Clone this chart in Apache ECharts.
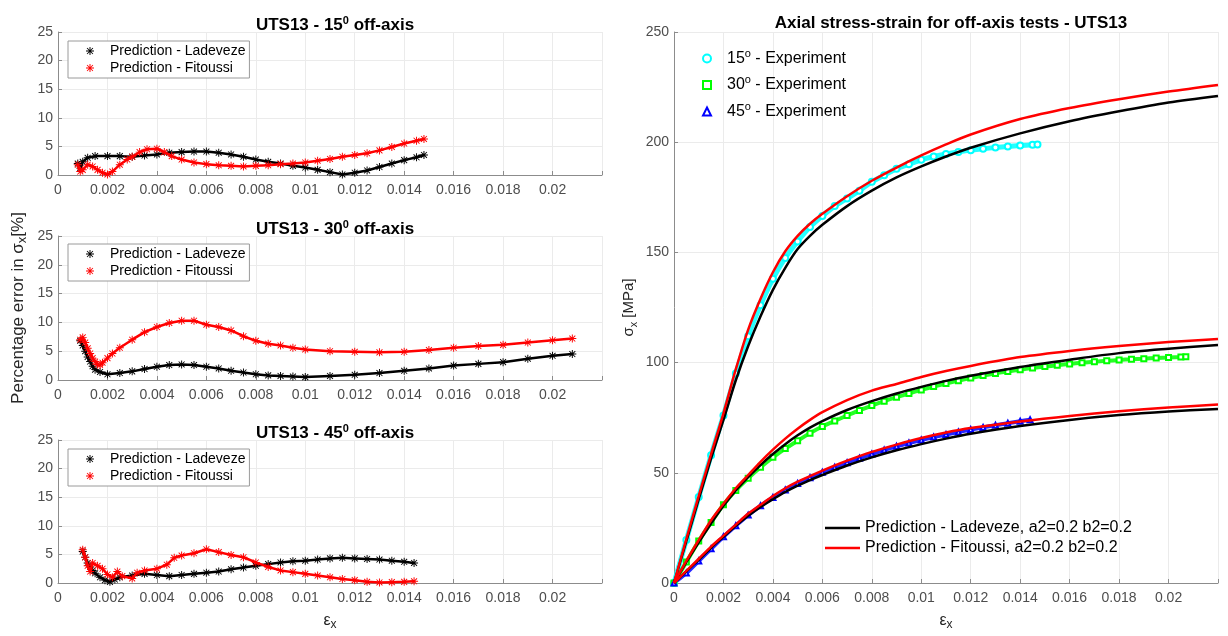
<!DOCTYPE html>
<html><head><meta charset="utf-8">
<script src="https://cdn.jsdelivr.net/npm/echarts@6.0.0/dist/echarts.min.js"></script>
<style>html,body{margin:0;padding:0;background:#fff}#c{width:1228px;height:636px}</style>
</head><body><div id="c"></div><script>
// ---------- Tick labels ----------
const errTicks = [0, 5, 10, 15, 20, 25];
const stressTicks = [0, 50, 100, 150, 200, 250];

// ---------- Left panels: percentage error ----------
// 15 deg
const e15L = [0.0008,0.0009,0.001,0.0012,0.0015,0.002,0.0025,0.003,0.0035,0.004,0.0045,0.005,0.0055,0.006,0.0065,0.007,0.0075,0.008,0.0085,0.009,0.0095,0.01,0.0105,0.011,0.0115,0.012,0.0125,0.013,0.0135,0.014,0.0145,0.0148];
const err15L = [2.0,1.2,2.3,3.0,3.3,3.3,3.3,3.2,3.4,3.6,3.9,4.0,4.1,4.1,3.9,3.6,3.2,2.7,2.3,2.0,1.6,1.3,0.9,0.5,0.1,0.4,0.8,1.4,2.0,2.6,3.1,3.5];
const e15F = [0.0008,0.0009,0.001,0.0012,0.0014,0.0016,0.0018,0.002,0.0022,0.0025,0.0028,0.003,0.0033,0.0036,0.004,0.0043,0.0046,0.005,0.0055,0.006,0.0065,0.007,0.0075,0.008,0.0085,0.009,0.0095,0.01,0.0105,0.011,0.0115,0.012,0.0125,0.013,0.0135,0.014,0.0145,0.0148];
const err15F = [1.8,0.6,0.9,1.8,1.5,0.9,0.4,0.1,0.6,1.8,2.7,3.2,4.0,4.5,4.6,4.0,3.3,2.7,2.2,1.9,1.7,1.6,1.5,1.6,1.7,1.9,2.0,2.2,2.5,2.8,3.2,3.5,3.8,4.3,4.9,5.5,6.0,6.3];
// 30 deg
const e30L = [0.0009,0.001,0.0011,0.0012,0.0013,0.0014,0.0015,0.0017,0.002,0.0025,0.003,0.0035,0.004,0.0045,0.005,0.0055,0.006,0.0065,0.007,0.0075,0.008,0.0085,0.009,0.0095,0.01,0.011,0.012,0.013,0.014,0.015,0.016,0.017,0.018,0.019,0.02,0.0208];
const err30L = [6.8,6.0,5.0,4.0,3.2,2.4,1.8,1.4,1.0,1.2,1.5,1.9,2.3,2.6,2.7,2.6,2.3,2.0,1.6,1.3,1.0,0.8,0.7,0.6,0.5,0.7,0.9,1.2,1.6,2.0,2.5,2.8,3.1,3.7,4.2,4.5];
const e30F = [0.0009,0.001,0.0011,0.0012,0.0013,0.0014,0.0015,0.0016,0.0017,0.0018,0.002,0.0022,0.0025,0.003,0.0035,0.004,0.0045,0.005,0.0055,0.006,0.0065,0.007,0.0075,0.008,0.0085,0.009,0.0095,0.01,0.011,0.012,0.013,0.014,0.015,0.016,0.017,0.018,0.019,0.02,0.0208];
const err30F = [7.0,7.4,6.5,5.5,4.6,3.8,3.2,2.7,2.6,3.0,3.8,4.6,5.6,7.0,8.3,9.2,9.9,10.3,10.3,9.6,9.2,8.6,7.6,6.8,6.3,6.0,5.6,5.3,5.0,4.9,4.8,4.9,5.2,5.6,5.9,6.1,6.5,6.9,7.2];
// 45 deg
const e45L = [0.001,0.0011,0.0012,0.0013,0.0014,0.0015,0.0017,0.0019,0.0021,0.0023,0.0025,0.003,0.0035,0.004,0.0045,0.005,0.0055,0.006,0.0065,0.007,0.0075,0.008,0.0085,0.009,0.0095,0.01,0.0105,0.011,0.0115,0.012,0.0125,0.013,0.0135,0.014,0.0144];
const err45L = [5.5,4.5,3.5,2.8,2.2,1.7,1.0,0.5,0.2,0.6,1.0,1.3,1.6,1.4,1.2,1.4,1.6,1.8,2.0,2.4,2.7,3.0,3.3,3.6,3.8,3.9,4.1,4.3,4.4,4.3,4.2,4.1,3.9,3.7,3.5];
const e45F = [0.001,0.0011,0.0012,0.0013,0.0014,0.0016,0.0018,0.002,0.0022,0.0024,0.0026,0.003,0.0032,0.0035,0.004,0.0044,0.0047,0.005,0.0055,0.006,0.0065,0.007,0.0075,0.008,0.0085,0.009,0.0095,0.01,0.0105,0.011,0.0115,0.012,0.0125,0.013,0.0135,0.014,0.0144];
const err45F = [5.8,4.5,3.0,2.0,3.5,3.0,2.5,1.5,1.0,2.0,1.2,0.8,1.8,2.2,2.5,3.2,4.4,4.8,5.2,5.9,5.4,4.9,4.5,3.6,2.8,2.2,1.9,1.6,1.3,1.0,0.7,0.5,0.2,0.1,0.15,0.2,0.3];

// ---------- Right panel: stress-strain ----------
const ePred = [0,0.0005,0.001,0.0015,0.002,0.0025,0.003,0.0035,0.004,0.0045,0.005,0.0055,0.006,0.007,0.008,0.009,0.01,0.011,0.012,0.014,0.016,0.018,0.02,0.022];
const s15Lad = [0,19,38,56.5,74,92,107.5,121,133,143,151.5,157.5,162.5,171,178,184,189,193.5,197.5,204,209.5,214,218,221];
const s15Fit = [0,20,39.5,58.5,77,97,115,129,141,150.5,157.5,163,167.5,175.5,182.5,188.5,194,199,203.5,210.5,215.5,219.5,223,226];
const s30Lad = [0,9.5,18.5,27,35,42,48,53.5,58.5,63,67,70.5,73.5,78.5,82.5,86,89,91.7,94,98,101.3,104.3,106.3,108];
const s30Fit = [0,10,19.5,28.5,36,43,49,55,60.5,65.5,70,74,77.5,83,87.3,90.3,93.5,96.2,98.5,102.5,105.3,107.5,109.3,110.7];
const s45Lad = [0,5.3,10.5,16,21,26,30.5,34.5,38,41.3,44.2,46.7,49,53.3,57,60.2,63,65.5,67.7,71.2,74,76.2,77.8,79];
const s45Fit = [0,5.5,11,16.5,21.5,26.5,31.5,35.5,39.5,43,46,48.5,51,55.5,59.5,62.8,65.8,68.3,70.3,73.3,75.8,77.9,79.6,81];

const eExp15 = [0,0.0005,0.001,0.0015,0.002,0.0025,0.003,0.0035,0.004,0.0045,0.005,0.0055,0.006,0.0065,0.007,0.0075,0.008,0.0085,0.009,0.0095,0.01,0.0105,0.011,0.0115,0.012,0.0125,0.013,0.0135,0.014,0.0145,0.0147];
const sExp15 = [0,19.5,39,58,76,95,112,126,138,147.5,155,161.5,166.5,171,174.5,178,182,185,188,190,192,193.5,194.7,195.6,196.4,197,197.6,198.1,198.5,198.8,199];
const eExp30 = [0,0.0005,0.001,0.0015,0.002,0.0025,0.003,0.0035,0.004,0.0045,0.005,0.0055,0.006,0.0065,0.007,0.0075,0.008,0.0085,0.009,0.0095,0.01,0.0105,0.011,0.0115,0.012,0.0125,0.013,0.0135,0.014,0.0145,0.015,0.0155,0.016,0.0165,0.017,0.0175,0.018,0.0185,0.019,0.0195,0.02,0.0205,0.0207];
const sExp30 = [0,9.5,19,27.5,35.5,42,47.5,52.5,57,61,64.5,68,71,73.5,76,78.3,80.5,82.5,84.3,86,87.6,89.1,90.5,91.8,93,94.1,95.1,96,96.8,97.5,98.2,98.8,99.4,99.9,100.4,100.8,101.2,101.5,101.8,102.1,102.3,102.5,102.6];
const eExp45 = [0,0.0005,0.001,0.0015,0.002,0.0025,0.003,0.0035,0.004,0.0045,0.005,0.0055,0.006,0.0065,0.007,0.0075,0.008,0.0085,0.009,0.0095,0.01,0.0105,0.011,0.0115,0.012,0.0125,0.013,0.0135,0.014,0.0144];
const sExp45 = [0,4.5,10,15.5,21,26,30.8,35,38.8,42.2,45.2,47.8,50.2,52.5,54.6,56.6,58.5,60.3,62,63.5,64.9,66.2,67.4,68.5,69.6,70.6,71.6,72.5,73.4,74.1];

// ---------- Names ----------
const nLad = 'Prediction - Ladeveze';
const nFit = 'Prediction - Fitoussi';
const nLad2 = 'Prediction - Ladeveze, a2=0.2 b2=0.2';
const nFit2 = 'Prediction - Fitoussi, a2=0.2 b2=0.2';
const nE15 = '15° - Experiment', nE30 = '30° - Experiment', nE45 = '45° - Experiment';
const expLabel = {};
expLabel[nE15] = '{g|}15{sup|o} - Experiment';
expLabel[nE30] = '{g|}30{sup|o} - Experiment';
expLabel[nE45] = '{g|}45{sup|o} - Experiment';

const FONT = '"Liberation Sans", Arial, Helvetica, sans-serif';
const STAR = 'path://M4.4,0L5.6,0L5.6,10L4.4,10Z M0,4.4L10,4.4L10,5.6L0,5.6Z M0.9,1.7L1.7,0.9L9.1,8.3L8.3,9.1Z M8.3,0.9L9.1,1.7L1.7,9.1L0.9,8.3Z';
const BAR = 'path://M0,0L35,0L35,2.6L0,2.6Z';
const AX = '#8c8c8c', LBL = '#4d4d4d', SPL = '#ebebeb';

function pts(xs, ys) { return xs.map((x, i) => [x, ys[i]]); }
function fmtX(v) { if (v > 0.0205) return ''; return String(+v.toFixed(3)); }

function xAx(gi, named) {
  return {
    type: 'value', gridIndex: gi, min: 0, max: 0.022, interval: 0.002,
    axisLine: { show: true, onZero: false, lineStyle: { color: AX, width: 1 } },
    axisTick: { show: true, inside: true, length: 4, lineStyle: { color: AX } },
    axisLabel: { color: LBL, fontSize: 14, margin: 8, fontFamily: FONT, formatter: fmtX },
    splitLine: { show: true, lineStyle: { color: SPL, width: 1 } },
    name: named ? '{e|ε}{sub|x}' : '', nameLocation: 'middle', nameGap: 27,
    nameTextStyle: { color: '#262626', fontFamily: FONT, fontSize: 16,
      rich: { e: { fontSize: 16, color: '#262626', fontFamily: FONT }, sub: { fontSize: 12, color: '#262626', fontFamily: FONT, padding: [9, 0, 0, 0] } } }
  };
}
function yAx(gi, ticks, name) {
  const o = {
    type: 'value', gridIndex: gi, min: ticks[0], max: ticks[ticks.length - 1], interval: ticks[1] - ticks[0],
    axisLine: { show: true, onZero: false, lineStyle: { color: AX, width: 1 } },
    axisTick: { show: true, inside: true, length: 4, lineStyle: { color: AX } },
    axisLabel: { color: LBL, fontSize: 14, margin: 5, fontFamily: FONT },
    splitLine: { show: true, lineStyle: { color: SPL, width: 1 } }
  };
  if (name) {
    o.name = name.text; o.nameLocation = 'middle'; o.nameGap = name.gap; o.nameRotate = 90;
    o.nameTextStyle = { color: '#262626', fontFamily: FONT, fontSize: name.size,
      rich: { t: { fontSize: name.size, color: '#262626', fontFamily: FONT },
              s: { fontSize: name.size, color: '#262626', fontFamily: FONT },
              sub: { fontSize: name.size - 4, color: '#262626', fontFamily: FONT, padding: [9, 0, 0, 0] } } };
  }
  return o;
}

function errSeries(name, xs, ys, gi, color) {
  return { type: 'line', name: name, xAxisIndex: gi, yAxisIndex: gi, data: pts(xs, ys),
    symbol: STAR, symbolSize: 8, showSymbol: true, lineStyle: { color: color, width: 2.5 },
    itemStyle: { color: color }, z: color === '#ff0000' ? 4 : 3, animation: false };
}
function predSeries(name, ys, color) {
  return { type: 'line', name: name, xAxisIndex: 3, yAxisIndex: 3, data: pts(ePred, ys),
    symbol: 'none', smooth: 0.3, lineStyle: { color: color, width: 2.5 }, itemStyle: { color: color },
    z: color === '#ff0000' ? 5 : 4, animation: false };
}
function expSeries(name, xs, ys, color, sym, size, lw) {
  return { type: 'line', name: name, xAxisIndex: 3, yAxisIndex: 3, data: pts(xs, ys),
    symbol: sym, symbolSize: size, showSymbol: true, smooth: 0.3,
    lineStyle: { color: color, width: lw, opacity: 0.85 },
    itemStyle: { color: color, borderColor: color, borderWidth: 1 }, z: 2, animation: false };
}

function titleObj(text, left, top) {
  return { text: text, left: left, top: top, textAlign: 'center',
    textStyle: { fontSize: 17, fontWeight: 'bold', color: '#000', fontFamily: FONT,
      rich: { sup: { fontSize: 11, fontWeight: 'bold', color: '#000', fontFamily: FONT, padding: [0, 0, 10, 0] } } } };
}
function errLegend(top) {
  return { left: 68, top: top, orient: 'vertical', data: [nLad, nFit], icon: STAR,
    itemWidth: 30, itemHeight: 8, itemGap: 3, padding: [3, 4, 3, 18], selectedMode: false,
    borderColor: '#9a9a9a', borderWidth: 1, backgroundColor: '#fff',
    textStyle: { fontSize: 14, color: '#000', fontFamily: FONT } };
}

const option = {
  backgroundColor: '#fff',
  animation: false,
  title: [
    titleObj('UTS13 - 15{sup|0} off-axis', 330, 10),
    titleObj('UTS13 - 30{sup|0} off-axis', 330, 214),
    titleObj('UTS13 - 45{sup|0} off-axis', 330, 418),
    titleObj('Axial stress-strain for off-axis tests - UTS13', 946, 10)
  ],
  grid: [
    { left: 58, top: 32, width: 544, height: 143 },
    { left: 58, top: 236, width: 544, height: 144 },
    { left: 58, top: 440, width: 544, height: 143 },
    { left: 674, top: 32, width: 544, height: 551 }
  ],
  xAxis: [xAx(0, false), xAx(1, false), xAx(2, true), xAx(3, true)],
  yAxis: [
    yAx(0, errTicks),
    yAx(1, errTicks, { text: '{t|Percentage error in }{s|σ}{sub|x}{t|[%]}', gap: 29, size: 17 }),
    yAx(2, errTicks),
    yAx(3, stressTicks, { text: '{s|σ}{sub|x}{t| [MPa]}', gap: 35, size: 15 })
  ],
  legend: [
    errLegend(41), errLegend(244), errLegend(449),
    { left: 702, top: 48, orient: 'vertical', data: [{ name: nE15, icon: 'emptyCircle' }, { name: nE30, icon: 'emptyRect' }, { name: nE45, icon: 'emptyTriangle' }],
      itemWidth: 8, itemHeight: 8, itemGap: 8, padding: 0, selectedMode: false,
      formatter: function (n) { return expLabel[n]; },
      textStyle: { fontSize: 16, color: '#000', fontFamily: FONT,
        rich: { g: { width: 11 }, sup: { fontSize: 11, color: '#000', fontFamily: FONT, padding: [0, 0, 10, 0] } } } },
    { left: 825, top: 520, orient: 'vertical', data: [{ name: nLad2, icon: BAR }, { name: nFit2, icon: BAR }],
      itemWidth: 35, itemHeight: 3, itemGap: 4, padding: 0, selectedMode: false,
      textStyle: { fontSize: 16, color: '#000', fontFamily: FONT } }
  ],
  series: [
    errSeries(nLad, e15L, err15L, 0, '#000000'),
    errSeries(nFit, e15F, err15F, 0, '#ff0000'),
    errSeries(nLad, e30L, err30L, 1, '#000000'),
    errSeries(nFit, e30F, err30F, 1, '#ff0000'),
    errSeries(nLad, e45L, err45L, 2, '#000000'),
    errSeries(nFit, e45F, err45F, 2, '#ff0000'),
    expSeries(nE15, eExp15, sExp15, '#00ffff', 'emptyCircle', 6, 5),
    expSeries(nE30, eExp30, sExp30, '#00ff00', 'emptyRect', 5, 4),
    expSeries(nE45, eExp45, sExp45, '#0000ff', 'emptyTriangle', 5, 4),
    predSeries(nLad2, s15Lad, '#000000'),
    predSeries(nLad2, s30Lad, '#000000'),
    predSeries(nLad2, s45Lad, '#000000'),
    predSeries(nFit2, s15Fit, '#ff0000'),
    predSeries(nFit2, s30Fit, '#ff0000'),
    predSeries(nFit2, s45Fit, '#ff0000')
  ]
};

const chart = echarts.init(document.getElementById('c'), null, { renderer: 'canvas' });
chart.setOption(option);
</script></body></html>
